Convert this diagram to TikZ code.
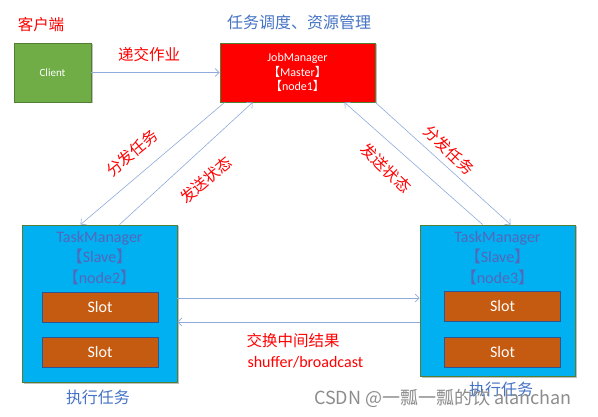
\documentclass[tikz,border=0pt]{standalone}
\usepackage{fontspec}
\setmainfont{Carlito}
\newfontfamily\cjk{Noto Sans CJK SC}
\usetikzlibrary{positioning, arrows.meta, shadows}

\definecolor{edgegreen}{HTML}{507E32}
\definecolor{clientgreen}{HTML}{70AD47}
\definecolor{tmcyan}{HTML}{00B0F0}
\definecolor{slotorange}{HTML}{C55A11}
\definecolor{slotblue}{HTML}{2F5597}
\definecolor{titleblue}{HTML}{4472C4}
\definecolor{tmtextblue}{HTML}{5566BB}
\definecolor{linkblue}{HTML}{8FAADC}

\newcommand{\lbk}{{\cjk 【}}
\newcommand{\rbk}{{\cjk 】}}

\begin{document}
\begin{tikzpicture}[
    x=1pt, y=-1pt,
    % Boxes
    nodebox/.style={
        rectangle,
        draw=edgegreen,
        line width=0.9pt,
        inner sep=0pt,
        drop shadow={shadow xshift=1.5pt, shadow yshift=-1.5pt, opacity=0.25, fill=black}
    },
    slotbox/.style={
        rectangle,
        draw=slotblue,
        line width=0.9pt,
        fill=slotorange,
        minimum width=116pt,
        minimum height=30pt,
        text=white,
        font=\fontsize{16}{18}\selectfont
    },
    tmtext/.style={
        align=center,
        text=tmtextblue,
        font=\fontsize{16}{20.5}\selectfont
    },
    arrow/.style={
        -{Straight Barb[length=4pt, width=8pt]},
        line width=0.6pt,
        linkblue
    },
    redlabel/.style={
        text=red,
        font=\cjk\fontsize{15.5}{18}\selectfont
    },
    bluelabel/.style={
        text=titleblue,
        font=\cjk\fontsize{16}{18}\selectfont
    }
]
\useasboundingbox (0,0) rectangle (598,417);

% === Top: client and JobManager ===
\node[nodebox, fill=clientgreen, minimum width=77pt, minimum height=59pt,
      text=white, font=\fontsize{11}{13}\selectfont] (client) at (52.5,72.5) {Client};
\node[nodebox, fill=red, minimum width=155pt, minimum height=59pt, align=center,
      text=white, font=\fontsize{12}{14.5}\selectfont] (jm) at (297.5,72.5)
      {JobManager\\\lbk Master\rbk\\\lbk node1\rbk};

% === Bottom: TaskManagers ===
\node[nodebox, fill=tmcyan, minimum width=155pt, minimum height=157pt] (tm2) at (99.5,303.5) {};
\node[tmtext, below=3pt of tm2.north] (tm2text) {TaskManager\\\lbk Slave\rbk\\\lbk node2\rbk};
\node[slotbox] (slot21) at (100,307) {Slot};
\node[slotbox] (slot22) at (100,352) {Slot};

\node[nodebox, fill=tmcyan, minimum width=155pt, minimum height=151pt] (tm3) at (497.5,300.5) {};
\node[tmtext, below=3pt of tm3.north] (tm3text) {TaskManager\\\lbk Slave\rbk\\\lbk node3\rbk};
\node[slotbox] (slot31) at (502.5,306.5) {Slot};
\node[slotbox] (slot32) at (502.5,352) {Slot};

% === Arrows ===
\draw[arrow] (client.east) -- (jm.west);
\draw[arrow] ([xshift=5pt]jm.south west) -- ([xshift=59pt]tm2.north west);
\draw[arrow] ([xshift=98pt]tm2.north west) -- ([xshift=33pt]jm.south west);
\draw[arrow] ([xshift=63pt]tm3.north west) -- ([xshift=125pt]jm.south west);
\draw[arrow] (jm.south east) -- ([xshift=91pt]tm3.north west);
\draw[arrow] ([yshift=5.5pt]tm2.east) -- ([yshift=5.5pt]tm2.east -| tm3.west);
\draw[arrow] ([yshift=-18.5pt]tm2.east -| tm3.west) -- ([yshift=-18.5pt]tm2.east);

% === Labels ===
\node[redlabel] (clientlbl) at (41,25) {客户端};
\node[redlabel] (submitlbl) at (149,55) {递交作业};
\node[bluelabel] (jmlbl) at (299,22) {任务调度、资源管理};
\node[redlabel, rotate=40] (dist2) at (132,153) {分发任务};
\node[redlabel, rotate=40] (state2) at (206,180) {发送状态};
\node[redlabel, rotate=-44] (state3) at (386,168) {发送状态};
\node[redlabel, rotate=-44] (dist3) at (449,150) {分发任务};
\node[redlabel, anchor=west] (swaplbl) at (243,341) {交换中间结果};
\node[redlabel, anchor=west, font=\fontsize{16}{18}\selectfont] (shufflbl) at (244,362) {shuffer/broadcast};
\node[bluelabel] (run2) at (98,397) {执行任务};
\node[bluelabel] (run3) at (501,389) {执行任务};

% === Watermark ===
\node[text=black!45, font=\cjk\fontsize{18}{20}\selectfont] (mark) at (443,398) {CSDN @一瓢一瓢的饮 alanchan};

\end{tikzpicture}
\end{document}
